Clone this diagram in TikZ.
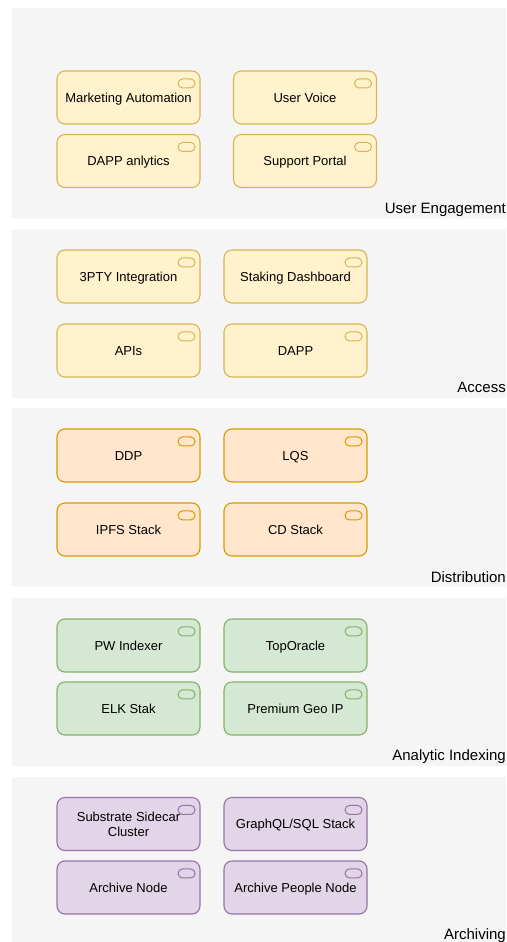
\documentclass[tikz,border=0pt]{standalone}
\usepackage{fontspec}
\setmainfont{Liberation Sans}
\usetikzlibrary{calc}
\definecolor{panelfill}{HTML}{F5F5F5}
\definecolor{yfill}{HTML}{FFF2CC}\definecolor{ydraw}{HTML}{D6B656}
\definecolor{ofill}{HTML}{FFE6CC}\definecolor{odraw}{HTML}{D79B00}
\definecolor{gfill}{HTML}{D5E8D4}\definecolor{gdraw}{HTML}{82B366}
\definecolor{pfill}{HTML}{E1D5E7}\definecolor{pdraw}{HTML}{9673A6}
\tikzset{
  appbase/.style={rounded corners=8pt, minimum width=143pt, minimum height=53pt,
    inner sep=1pt, align=center, line width=1.1pt, font=\fontsize{13}{15}\selectfont},
  appbox/.style={appbase, text height=9.4pt, text depth=0pt},
  ybox/.style={appbox, fill=yfill, draw=ydraw},
  obox/.style={appbox, fill=ofill, draw=odraw},
  gbox/.style={appbox, fill=gfill, draw=gdraw},
  pbox/.style={appbox, fill=pfill, draw=pdraw},
  pboxtwo/.style={appbase, fill=pfill, draw=pdraw},
  panellabel/.style={anchor=base east, inner sep=0pt, font=\fontsize{15}{17}\selectfont},
  icon/.style={rounded corners=4.5pt, line width=1pt, minimum width=17pt, minimum height=9pt, inner sep=0pt}
}
\newcommand{\boxicon}[2]{\node[icon, draw=#2, fill=none] at ($(#1.north east)+(-14,13)$) {};}
\begin{document}
\begin{tikzpicture}[x=1pt,y=-1pt]
\useasboundingbox (0,0) rectangle (506,942);
% panels
\fill[panelfill] (12,8) rectangle (506,219);
\fill[panelfill] (12,229) rectangle (506,398);
\fill[panelfill] (12,408) rectangle (506,587);
\fill[panelfill] (12,598) rectangle (506,766);
\fill[panelfill] (12,777) rectangle (506,942);
% labels
\node[panellabel] (lue) at (506,213) {User Engagement};
\node[panellabel] (lac) at (506,392) {Access};
\node[panellabel] (ldi) at (506,582) {Distribution};
\node[panellabel] (lai) at (506,760) {Analytic Indexing};
\node[panellabel] (lar) at (506,939) {Archiving};
% User Engagement
\node[ybox] (ma) at (128.5,97.5) {Marketing Automation}; \boxicon{ma}{ydraw}
\node[ybox] (uv) at (305,97.5) {User Voice}; \boxicon{uv}{ydraw}
\node[ybox] (da) at (128.5,161) {DAPP anlytics}; \boxicon{da}{ydraw}
\node[ybox] (sp) at (305,161) {Support Portal}; \boxicon{sp}{ydraw}
% Access
\node[ybox] (tp) at (128.5,276.5) {3PTY Integration}; \boxicon{tp}{ydraw}
\node[ybox] (sd) at (295.5,276.5) {Staking Dashboard}; \boxicon{sd}{ydraw}
\node[ybox] (ap) at (128.5,350.5) {APIs}; \boxicon{ap}{ydraw}
\node[ybox] (dp) at (295.5,350.5) {DAPP}; \boxicon{dp}{ydraw}
% Distribution
\node[obox] (ddp) at (128.5,455.5) {DDP}; \boxicon{ddp}{odraw}
\node[obox] (lqs) at (295.5,455.5) {LQS}; \boxicon{lqs}{odraw}
\node[obox] (ipfs) at (128.5,529.5) {IPFS Stack}; \boxicon{ipfs}{odraw}
\node[obox] (cd) at (295.5,529.5) {CD Stack}; \boxicon{cd}{odraw}
% Analytic Indexing
\node[gbox] (pw) at (128.5,645.5) {PW Indexer}; \boxicon{pw}{gdraw}
\node[gbox] (to) at (295.5,645.5) {TopOracle}; \boxicon{to}{gdraw}
\node[gbox] (elk) at (128.5,708.5) {ELK Stak}; \boxicon{elk}{gdraw}
\node[gbox] (geo) at (295.5,708.5) {Premium Geo IP}; \boxicon{geo}{gdraw}
% Archiving
\node[pboxtwo] (ssc) at (128.5,824) {Substrate Sidecar\\Cluster}; \boxicon{ssc}{pdraw}
\node[pbox] (gql) at (295.5,824) {GraphQL/SQL Stack}; \boxicon{gql}{pdraw}
\node[pbox] (an) at (128.5,887.5) {Archive Node}; \boxicon{an}{pdraw}
\node[pbox] (apn) at (295.5,887.5) {Archive People Node}; \boxicon{apn}{pdraw}
\end{tikzpicture}
\end{document}
